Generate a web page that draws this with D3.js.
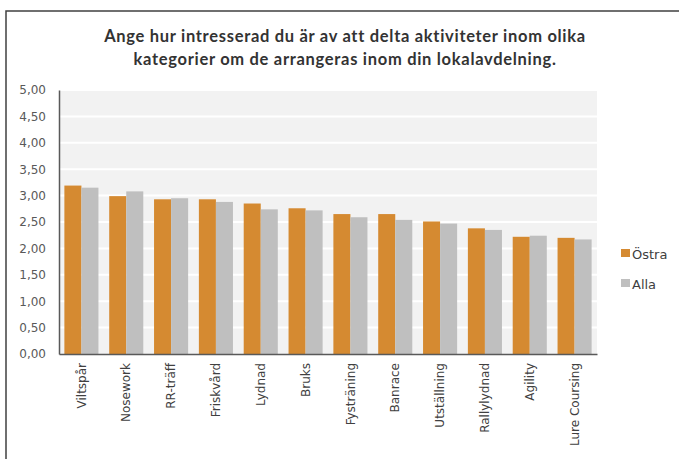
<!DOCTYPE html>
<html>
<head>
<meta charset="utf-8">
<script src="https://cdn.jsdelivr.net/npm/d3@7"></script>
<style>
  body { margin: 0; background: #fff; }
  svg { display: block; }
</style>
</head>
<body>
<svg width="679" height="459"></svg>
<script>
const categories = ["Viltspår", "Nosework", "RR-träff", "Friskvård", "Lydnad", "Bruks", "Fysträning", "Banrace", "Utställning", "Rallylydnad", "Agility", "Lure Coursing"];
const ostra = [3.19, 2.99, 2.93, 2.93, 2.85, 2.76, 2.65, 2.65, 2.51, 2.38, 2.22, 2.20];
const alla = [3.15, 3.08, 2.95, 2.88, 2.74, 2.72, 2.59, 2.54, 2.47, 2.35, 2.24, 2.17];
const seriesNames = ["Östra", "Alla"];
const yTicks = [0, 0.5, 1, 1.5, 2, 2.5, 3, 3.5, 4, 4.5, 5];
const titleLines = ["Ange hur intresserad du är av att delta aktiviteter inom olika", "kategorier om de arrangeras inom din lokalavdelning."];

let svg = d3.select("svg");
let colors = d3.scaleOrdinal().domain(seriesNames).range(["#D58A31", "#BFBFBF"]);
let margin = {top: 90, left: 59}, width = 538, height = 264;

// chart frame
svg.append("rect")
  .attr("x", 6).attr("y", 11).attr("width", 700).attr("height", 500)
  .attr("fill", "none").attr("stroke", "#404040").attr("stroke-width", 1.5);

svg.selectAll(".title")
  .data(titleLines)
  .enter().append("text")
  .attr("x", 345).attr("y", (d, i) => 42 + i * 23)
  .attr("text-anchor", "middle")
  .style("font-family", "Lato, sans-serif")
  .style("font-weight", "bold").style("font-size", "16.5px")
  .style("letter-spacing", "0.7px")
  .attr("fill", "#333")
  .text(d => d);

let g = svg.append("g").attr("transform", "translate(" + margin.left + "," + margin.top + ")");
let x = d3.scaleBand().domain(categories).range([0, width]).paddingInner(0.24).paddingOuter(0.12);
let x1 = d3.scaleBand().domain(seriesNames).range([0, x.bandwidth()]);
let y = d3.scaleLinear().domain([0, 5]).range([height, 0]);

g.append("rect").attr("width", width).attr("height", height).attr("fill", "#F2F2F2");

g.selectAll(".grid")
  .data(yTicks.slice(1))
  .enter().append("line")
  .attr("x1", 0).attr("x2", width)
  .attr("y1", d => y(d)).attr("y2", d => y(d))
  .attr("stroke", "#fff").attr("stroke-width", 2);

let rows = categories.map((c, i) => ({cat: c, values: [ostra[i], alla[i]]}));
g.selectAll(".cat")
  .data(rows)
  .enter().append("g")
  .attr("transform", d => "translate(" + x(d.cat) + ",0)")
  .selectAll("rect")
  .data(d => d.values.map((v, j) => ({key: seriesNames[j], value: v})))
  .enter().append("rect")
  .attr("x", d => x1(d.key))
  .attr("y", d => y(d.value))
  .attr("width", x1.bandwidth())
  .attr("height", d => height - y(d.value))
  .attr("fill", d => colors(d.key));

let yAxis = g.append("g")
  .call(d3.axisLeft(y).tickValues(yTicks).tickSize(0).tickPadding(13)
    .tickFormat(d => d3.format(".2f")(d).replace(".", ",")));
yAxis.select(".domain").attr("stroke", "#595959").attr("stroke-width", 1.5);
yAxis.selectAll("text")
  .style("font-family", "'DejaVu Sans', sans-serif").style("font-size", "12px")
  .attr("fill", "#595959");

let xAxis = g.append("g")
  .attr("transform", "translate(0," + height + ")")
  .call(d3.axisBottom(x).tickSize(0).tickPadding(0));
xAxis.select(".domain").attr("stroke", "#595959").attr("stroke-width", 1.5);
xAxis.selectAll("text")
  .style("font-family", "'DejaVu Sans', sans-serif").style("font-size", "12px")
  .attr("fill", "#404040")
  .style("text-anchor", "end")
  .attr("transform", "rotate(-90)")
  .attr("x", -9).attr("y", 0).attr("dy", "0.35em");

let legend = svg.append("g").attr("transform", "translate(621,249)");
let li = legend.selectAll("g")
  .data(seriesNames)
  .enter().append("g")
  .attr("transform", (d, i) => "translate(0," + i * 30 + ")");
li.append("rect").attr("width", 9).attr("height", 8).attr("fill", d => colors(d));
li.append("text")
  .attr("x", 11).attr("y", 9.5)
  .style("font-family", "'DejaVu Sans', sans-serif").style("font-size", "13px")
  .attr("fill", "#404040")
  .text(d => d);
</script>
</body>
</html>
